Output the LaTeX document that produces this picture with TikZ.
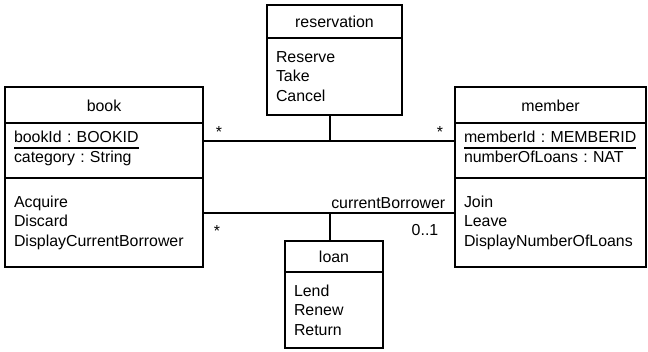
\documentclass[tikz,border=0pt]{standalone}
\usepackage{fontspec}
\setmainfont{Liberation Sans}
\usetikzlibrary{positioning}
\newcommand{\keyline}[1]{\setbox0=\hbox{#1}\rlap{\vrule width\wd0 height -4.5pt depth 6pt}\box0}
\newcommand{\attrgap}{\rule[-8pt]{0pt}{8pt}}
\frenchspacing

\begin{document}
\begin{tikzpicture}[x=1pt,y=-1pt,line width=1.5pt,node distance=0pt,
		font=\fontsize{15.9}{19.5}\selectfont]
		\tikzstyle{classname}=[draw,outer sep=0pt,align=center,text height=14pt,text depth=1.5pt]
		\tikzstyle{compart}=[draw,outer sep=0pt,inner xsep=9pt,align=left]
		\tikzstyle{mult}=[inner sep=0pt]
		
		\useasboundingbox (0,0) rectangle (648,351);
		
		\node[classname,minimum width=198,minimum height=36,anchor=north west] (book) at (5,87) {book};
		\node[compart,text width=180,minimum height=55,below=of book] (bookattr) {\keyline{bookId : BOOKID}\\category : String\attrgap};
		\node[compart,text width=180,minimum height=89,below=of bookattr] (bookops) {Acquire\\Discard\\DisplayCurrentBorrower};
		
		\node[classname,minimum width=191,minimum height=36,anchor=north west] (member) at (455,87) {member};
		\node[compart,text width=173,minimum height=55,below=of member] (memberattr) {\keyline{memberId : MEMBERID}\\numberOfLoans : NAT\attrgap};
		\node[compart,text width=173,minimum height=89,below=of memberattr] (memberops) {Join\\Leave\\DisplayNumberOfLoans};
		
		\node[classname,minimum width=135,minimum height=33,anchor=north west] (res) at (267,5) {reservation};
		\node[compart,text width=117,minimum height=77,below=of res] (resops) {Reserve\\Take\\Cancel};
		
		\node[classname,minimum width=98,minimum height=31,anchor=north west] (loan) at (285,241) {loan};
		\node[compart,text width=80,minimum height=76,below=of loan] (loanops) {Lend\\Renew\\Return};
		
		\coordinate (resjoin) at (330,141);
		\coordinate (loanjoin) at (330,213);
		
		\draw (bookattr.east |- resjoin) -- (memberattr.west |- resjoin);
		\draw (resjoin |- resops.south) -- (resjoin);
		\draw (bookops.east |- loanjoin) -- (memberops.west |- loanjoin);
		\draw (loanjoin) -- (loanjoin |- loan.north);
		
		\node[mult,anchor=base] (bookres) at (219,137) {*};
		\node[mult,anchor=base] (memberres) at (440,137) {*};
		\node[mult,anchor=base] (bookloan) at (217,236) {*};
		\node[mult,anchor=base] (memberloan) at (425,235.5) {0..1};
		\node[mult,anchor=base east] (borrower) at (446,208) {currentBorrower};
\end{tikzpicture}
\end{document}
